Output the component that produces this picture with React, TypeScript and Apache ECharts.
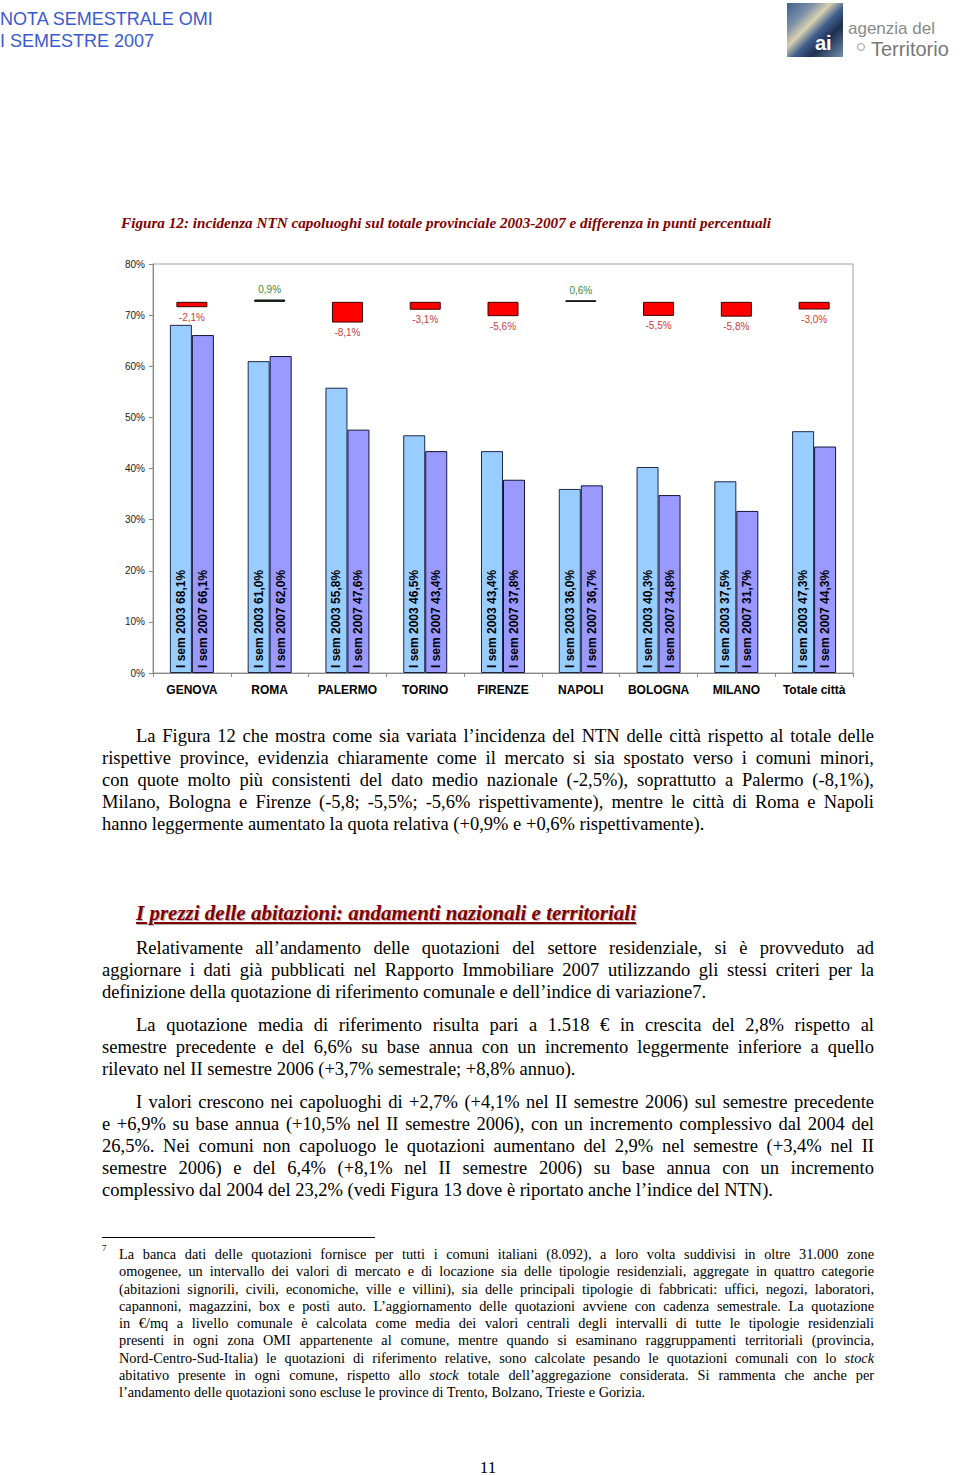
import React, { useEffect, useRef } from "react";
import * as echarts from "echarts";

const categories = ["GENOVA", "ROMA", "PALERMO", "TORINO", "FIRENZE", "NAPOLI", "BOLOGNA", "MILANO", "Totale città"];
const sem2003 = [68.1, 61.0, 55.8, 46.5, 43.4, 36.0, 40.3, 37.5, 47.3];
const sem2007 = [66.1, 62.0, 47.6, 43.4, 37.8, 36.7, 34.8, 31.7, 44.3];
const diffPoints = [-2.1, 0.9, -8.1, -3.1, -5.6, 0.6, -5.5, -5.8, -3.0];
const yTicks = [0, 10, 20, 30, 40, 50, 60, 70, 80];

// the difference bars hang from a fixed level, drawn at half scale
const DIFF_BASE = 72.6;
const DIFF_SCALE = 0.5;

const fmt = (v: number) => v.toFixed(1).replace(".", ",");

const para1 = [
  "La Figura 12 che mostra come sia variata l’incidenza del NTN delle città rispetto al totale delle",
  "rispettive province, evidenzia chiaramente come il mercato si sia spostato verso i comuni minori,",
  "con quote molto più consistenti del dato medio nazionale (-2,5%), soprattutto a Palermo (-8,1%),",
  "Milano, Bologna e Firenze (-5,8; -5,5%; -5,6% rispettivamente), mentre le città di Roma e Napoli",
  "hanno leggermente aumentato la quota relativa (+0,9% e +0,6% rispettivamente).",
];
const para2 = [
  "Relativamente all’andamento delle quotazioni del settore residenziale, si è provveduto ad",
  "aggiornare i dati già pubblicati nel Rapporto Immobiliare 2007 utilizzando gli stessi criteri per la",
  "definizione della quotazione di riferimento comunale e dell’indice di variazione7.",
];
const para3 = [
  "La quotazione media di riferimento risulta pari a 1.518 € in crescita del 2,8% rispetto al",
  "semestre precedente e del 6,6% su base annua con un incremento leggermente inferiore a quello",
  "rilevato nel II semestre 2006 (+3,7% semestrale; +8,8% annuo).",
];
const para4 = [
  "I valori crescono nei capoluoghi di +2,7% (+4,1% nel II semestre 2006) sul semestre precedente",
  "e +6,9% su base annua (+10,5% nel II semestre 2006), con un incremento complessivo dal 2004 del",
  "26,5%. Nei comuni non capoluogo le quotazioni aumentano del 2,9% nel semestre (+3,4% nel II",
  "semestre 2006) e del 6,4% (+8,1% nel II semestre 2006) su base annua con un incremento",
  "complessivo dal 2004 del 23,2% (vedi Figura 13 dove è riportato anche l’indice del NTN).",
];
const footLines: (string | { i: string })[][] = [
  ["La banca dati delle quotazioni fornisce per tutti i comuni italiani (8.092), a loro volta suddivisi in oltre 31.000 zone"],
  ["omogenee, un intervallo dei valori di mercato e di locazione sia delle tipologie residenziali, aggregate in quattro categorie"],
  ["(abitazioni signorili, civili, economiche, ville e villini), sia delle principali tipologie di fabbricati: uffici, negozi, laboratori,"],
  ["capannoni, magazzini, box e posti auto. L’aggiornamento delle quotazioni avviene con cadenza semestrale. La quotazione"],
  ["in €/mq a livello comunale è calcolata come media dei valori centrali degli intervalli di tutte le tipologie residenziali"],
  ["presenti in ogni zona OMI appartenente al comune, mentre quando si esaminano raggruppamenti territoriali (provincia,"],
  ["Nord-Centro-Sud-Italia) le quotazioni di riferimento relative, sono calcolate pesando le quotazioni comunali con lo ", { i: "stock" }],
  ["abitativo presente in ogni comune, rispetto allo ", { i: "stock" }, " totale dell’aggregazione considerata. Si rammenta che anche per"],
  ["l’andamento delle quotazioni sono escluse le province di Trento, Bolzano, Trieste e Gorizia."],
];

const SERIF = '"Liberation Serif", "Times New Roman", serif';
const SANS = '"Liberation Sans", Arial, sans-serif';

function Para({ lines, top, indent }: { lines: string[]; top: number; indent: number }) {
  return (
    <div style={{ position: "absolute", left: 102, top, width: 772, fontFamily: SERIF, fontSize: 18.5, lineHeight: "22px", color: "#000" }}>
      {lines.map((l, i) => (
        <div
          key={i}
          style={{
            textAlign: "justify",
            textAlignLast: i === lines.length - 1 ? "left" : "justify",
            paddingLeft: i === 0 ? indent : 0,
            height: 22,
            whiteSpace: "nowrap",
          }}
        >
          {l}
        </div>
      ))}
    </div>
  );
}

function Chart() {
  const ref = useRef<HTMLDivElement>(null);
  useEffect(() => {
    if (!ref.current) return;
    const chart = echarts.init(ref.current, undefined, { renderer: "svg" });
    const barLabel = {
      show: true,
      position: "insideBottom",
      rotate: 90,
      align: "left",
      verticalAlign: "middle",
      distance: 5,
      fontSize: 12,
      fontWeight: "bold",
      fontFamily: SANS,
      color: "#000",
    };
    const diffBase = diffPoints.map((d) => (d < 0 ? DIFF_BASE + d * DIFF_SCALE : DIFF_BASE));
    const diffVis = diffPoints.map((d) => ({
      value: Math.abs(d) * DIFF_SCALE,
      itemStyle: d < 0 ? { color: "#FF0000", borderColor: "#3a0000", borderWidth: 1 } : { color: "#1d4a1d", borderColor: "#000", borderWidth: 1 },
      label: { position: d < 0 ? "bottom" : "top", color: d < 0 ? "#C84040" : "#3a8a3a" },
    }));
    chart.setOption({
      animation: false,
      grid: { left: 153, right: 107, top: 14, bottom: 37, show: true, borderColor: "#a0a0a0", borderWidth: 1 },
      xAxis: [
        {
          type: "category",
          data: categories,
          axisLine: { lineStyle: { color: "#888", width: 1 } },
          axisTick: { show: true, length: 4, lineStyle: { color: "#888" } },
          axisLabel: { interval: 0, fontFamily: SANS, fontSize: 12, fontWeight: "bold", color: "#000", margin: 11 },
        },
        { type: "category", data: categories, show: false },
      ],
      yAxis: {
        type: "value",
        min: yTicks[0],
        max: yTicks[yTicks.length - 1],
        interval: 10,
        axisLine: { show: true, lineStyle: { color: "#888", width: 1 } },
        axisTick: { show: true, length: 4, lineStyle: { color: "#888" } },
        splitLine: { show: false },
        axisLabel: { formatter: "{value}%", fontFamily: SANS, fontSize: 10, color: "#222", margin: 8 },
      },
      series: [
        {
          name: "I sem 2003",
          type: "bar",
          xAxisIndex: 0,
          data: sem2003,
          barWidth: 22,
          barGap: "0%",
          itemStyle: { color: "#99CCFF", borderColor: "#1c2a48", borderWidth: 1 },
          label: { ...barLabel, formatter: (p: any) => `I sem 2003 ${fmt(p.value)}%` },
        },
        {
          name: "I sem 2007",
          type: "bar",
          xAxisIndex: 0,
          data: sem2007,
          barWidth: 22,
          barGap: "0%",
          itemStyle: { color: "#9999FF", borderColor: "#14143a", borderWidth: 1 },
          label: { ...barLabel, formatter: (p: any) => `I sem 2007 ${fmt(p.value)}%` },
        },
        {
          name: "base",
          type: "bar",
          xAxisIndex: 1,
          stack: "diff",
          barWidth: 31,
          silent: true,
          data: diffBase,
          itemStyle: { color: "rgba(0,0,0,0)" },
        },
        {
          name: "differenza",
          type: "bar",
          xAxisIndex: 1,
          stack: "diff",
          barWidth: 31,
          data: diffVis,
          label: {
            show: true,
            distance: 5,
            fontFamily: SANS,
            fontSize: 10,
            formatter: (p: any) => `${fmt(diffPoints[p.dataIndex])}%`,
          },
        },
      ],
    });
    return () => chart.dispose();
  }, []);
  return <div ref={ref} style={{ position: "absolute", left: 0, top: 250, width: 960, height: 460 }} />;
}

export default function App() {
  return (
    <div style={{ position: "absolute", left: 0, top: 0, width: 960, height: 1476, background: "#fff", overflow: "hidden" }}>
      {/* header */}
      <div style={{ position: "absolute", left: 0, top: 8, fontFamily: SANS, fontSize: 18, lineHeight: "22px", color: "#3a5bd0" }}>
        <div>NOTA SEMESTRALE OMI</div>
        <div>I SEMESTRE 2007</div>
      </div>
      {/* logo */}
      <div
        style={{
          position: "absolute",
          left: 787,
          top: 3,
          width: 56,
          height: 54,
          background:
            "linear-gradient(135deg, #3d5f8f 0%, #7f93a8 25%, #d8d0b0 40%, #3e5d8d 55%, #1f2f4f 70%, #6f8fb0 100%)",
        }}
      >
        <div style={{ position: "absolute", left: 28, top: 30, fontFamily: SANS, fontSize: 20, fontWeight: "bold", color: "#fff", lineHeight: "20px" }}>ai</div>
      </div>
      <div style={{ position: "absolute", left: 848, top: 20, fontFamily: SANS, fontSize: 17, lineHeight: "17px", color: "#8a8a8a" }}>agenzia del</div>
      <div style={{ position: "absolute", left: 857, top: 43, width: 8, height: 8, borderRadius: 4, border: "1px solid #999", boxSizing: "border-box" }} />
      <div style={{ position: "absolute", left: 871, top: 39, fontFamily: SANS, fontSize: 20, lineHeight: "20px", color: "#777" }}>Territorio</div>

      {/* figure title */}
      <div
        style={{
          position: "absolute",
          left: 0,
          width: 892,
          top: 213,
          textAlign: "center",
          fontFamily: SERIF,
          fontSize: 15.2,
          lineHeight: "20px",
          fontWeight: "bold",
          fontStyle: "italic",
          color: "#800000",
          whiteSpace: "nowrap",
        }}
      >
        Figura 12: incidenza NTN capoluoghi sul totale provinciale 2003-2007 e differenza in punti percentuali
      </div>

      <Chart />

      <Para lines={para1} top={725} indent={34} />

      <div
        style={{
          position: "absolute",
          left: 136,
          top: 900,
          fontFamily: SERIF,
          fontSize: 21,
          lineHeight: "26px",
          fontWeight: "bold",
          fontStyle: "italic",
          textDecoration: "underline",
          color: "#800000",
          textShadow: "1px 1px 1px #b0b0b0",
          whiteSpace: "nowrap",
        }}
      >
        I prezzi delle abitazioni: andamenti nazionali e territoriali
      </div>

      <Para lines={para2} top={937} indent={34} />
      <Para lines={para3} top={1014} indent={34} />
      <Para lines={para4} top={1091} indent={34} />

      {/* footnote */}
      <div style={{ position: "absolute", left: 102, top: 1237, width: 273, height: 1, background: "#000" }} />
      <div style={{ position: "absolute", left: 102, top: 1243, fontFamily: SERIF, fontSize: 9, lineHeight: "10px" }}>7</div>
      <div style={{ position: "absolute", left: 119, top: 1246, width: 755, fontFamily: SERIF, fontSize: 14.3, lineHeight: "17.25px", color: "#000" }}>
        {footLines.map((parts, i) => (
          <div
            key={i}
            style={{
              textAlign: "justify",
              textAlignLast: i === footLines.length - 1 ? "left" : "justify",
              height: 17.25,
              whiteSpace: "nowrap",
            }}
          >
            {parts.map((p, j) => (typeof p === "string" ? <span key={j}>{p}</span> : <i key={j}>{p.i}</i>))}
          </div>
        ))}
      </div>

      <div style={{ position: "absolute", left: 0, width: 976, top: 1458, textAlign: "center", fontFamily: SERIF, fontSize: 17, lineHeight: "20px" }}>11</div>
    </div>
  );
}
